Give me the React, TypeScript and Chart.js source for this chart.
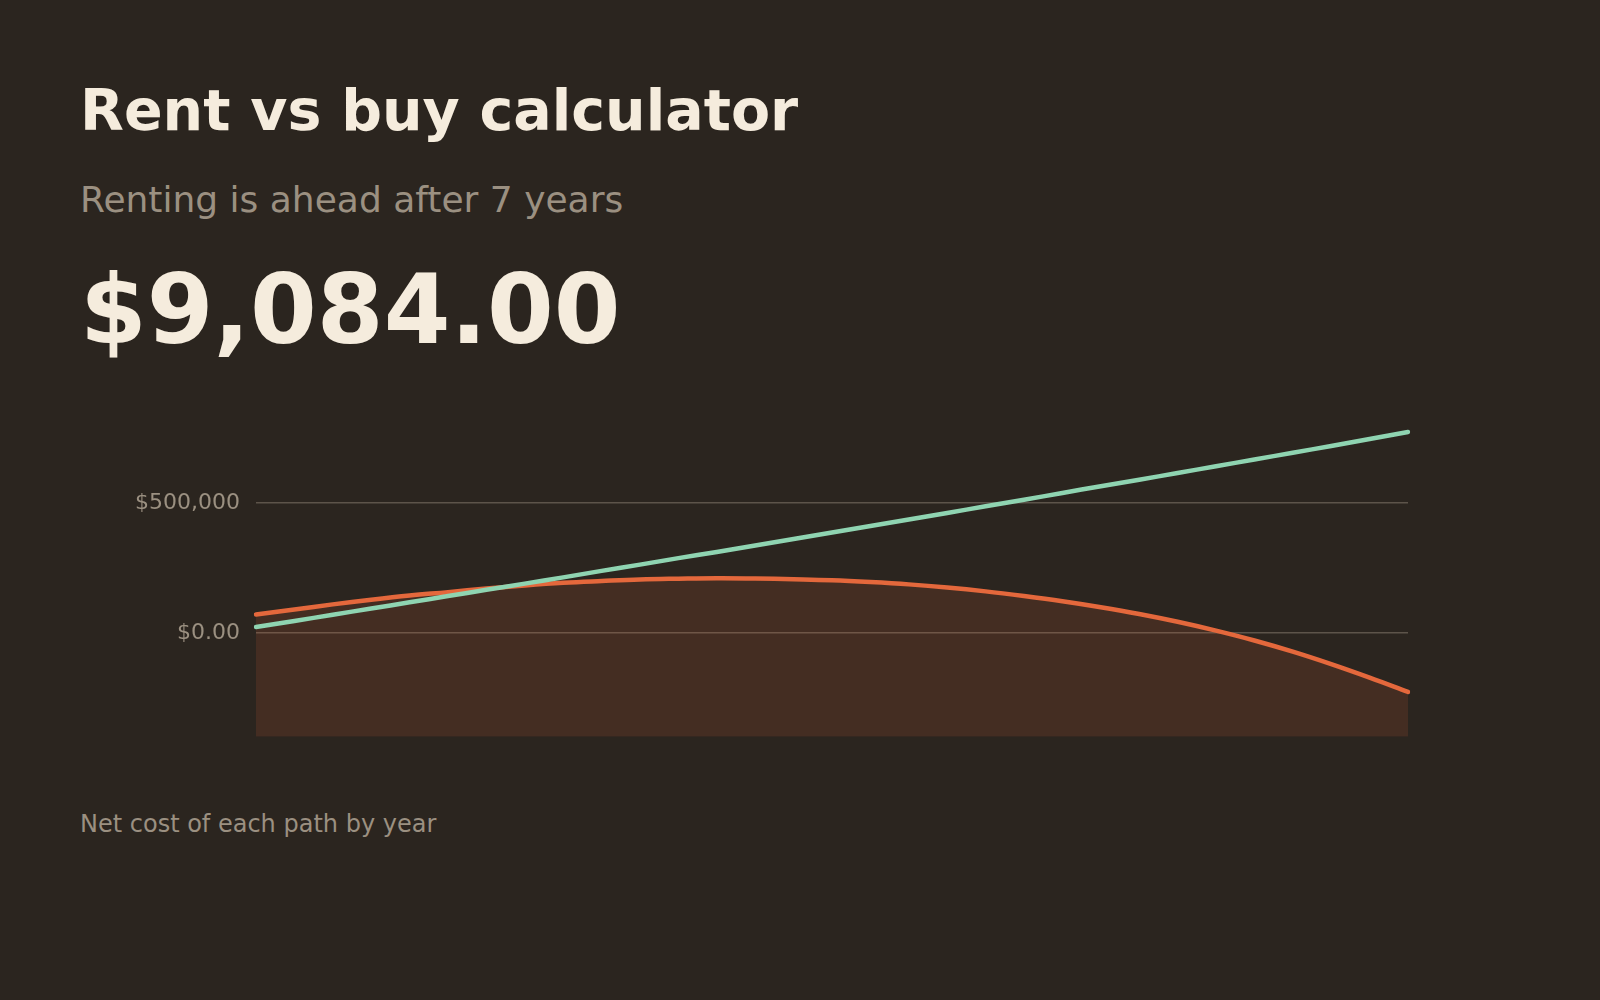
import React, { useEffect, useRef } from "react";
import { Chart, registerables } from "chart.js";

Chart.register(...registerables);

const years: number[] = [
  0, 1, 2, 3, 4, 5, 6, 7, 8, 9, 10, 11, 12, 13, 14, 15, 16, 17, 18, 19, 20,
  21, 22, 23, 24, 25, 26, 27, 28, 29, 30,
];

// Net cost of buying, by year
const buyNetCost: number[] = [
  71000, 90000, 110000, 128000, 144000, 157000, 171000, 183000, 193000,
  200000, 206000, 209000, 211000, 210000, 207000, 203000, 196000, 187000,
  175000, 160000, 142000, 122000, 99000, 73000, 43000, 9000, -29000, -72000,
  -120000, -172000, -227000,
];

// Net cost of renting, by year
const rentNetCost: number[] = [
  23000, 46000, 70000, 94000, 118000, 142000, 166000, 190000, 214000, 239000,
  263000, 288000, 312000, 337000, 362000, 387000, 412000, 437000, 462000,
  488000, 513000, 539000, 565000, 590000, 616000, 642000, 668000, 694000,
  720000, 747000, 774000,
];

const yTickValues: number[] = [0, 500000];
const yTickLabels: string[] = ["$0.00", "$500,000"];

const yMin = -400000;
const yMax = 800000;

const BG = "#2b251f";
const CREAM = "#f5ecdd";
const MUTED = "#9b9081";
const ORANGE = "#e4683c";
const GREEN = "#8fd4b1";
const GRID = "#5d544a";
const FONT = "'DejaVu Sans', Verdana, sans-serif";

export default function App() {
  const canvasRef = useRef<HTMLCanvasElement | null>(null);

  useEffect(() => {
    const canvas = canvasRef.current;
    if (!canvas) return;
    Chart.defaults.font.family = FONT;
    const chart = new Chart(canvas, {
      type: "line",
      data: {
        labels: years.map((y) => String(y)),
        datasets: [
          {
            label: "Buy",
            data: buyNetCost,
            borderColor: ORANGE,
            borderWidth: 4.5,
            borderCapStyle: "round",
            backgroundColor: "rgba(228,102,58,0.14)",
            fill: "start",
            pointRadius: 0,
            tension: 0.4,
            order: 1,
          },
          {
            label: "Rent",
            data: rentNetCost,
            borderColor: GREEN,
            borderWidth: 4.5,
            borderCapStyle: "round",
            fill: false,
            pointRadius: 0,
            tension: 0.4,
            order: 0,
          },
        ],
      },
      options: {
        responsive: false,
        animation: false,
        devicePixelRatio: 1,
        layout: { padding: { left: 0, right: 192, top: 24, bottom: 24 } },
        plugins: {
          legend: { display: false },
          tooltip: { enabled: false },
          title: { display: false },
        },
        scales: {
          x: { display: false },
          y: {
            min: yMin,
            max: yMax,
            afterBuildTicks: (scale: any) => {
              scale.ticks = yTickValues.map((v) => ({ value: v }));
            },
            afterFit: (scale: any) => {
              scale.width = 256;
            },
            border: { display: false },
            grid: {
              color: GRID,
              lineWidth: 1.5,
              drawTicks: false,
            },
            ticks: {
              padding: 16,
              color: MUTED,
              font: { size: 22, family: FONT },
              callback: (value: any) => {
                const i = yTickValues.indexOf(Number(value));
                return i >= 0 ? yTickLabels[i] : "";
              },
            },
          },
        },
      },
    });
    return () => chart.destroy();
  }, []);

  const textBase: React.CSSProperties = {
    position: "absolute",
    left: 80,
    margin: 0,
    lineHeight: 1,
    fontFamily: FONT,
    whiteSpace: "nowrap",
  };

  return (
    <div
      style={{
        position: "fixed",
        left: 0,
        top: 0,
        width: 1600,
        height: 1000,
        background: BG,
        overflow: "hidden",
      }}
    >
      <div style={{ ...textBase, top: 82, fontSize: 57, fontWeight: 700, color: CREAM }}>
        Rent vs buy calculator
      </div>
      <div style={{ ...textBase, top: 182, fontSize: 36, color: MUTED }}>
        Renting is ahead after 7 years
      </div>
      <div style={{ ...textBase, top: 262, fontSize: 96, fontWeight: 700, color: CREAM }}>
        $9,084.00
      </div>
      <canvas
        ref={canvasRef}
        width={1600}
        height={370}
        style={{ position: "absolute", left: 0, top: 396, width: 1600, height: 370 }}
      />
      <div style={{ ...textBase, top: 812, fontSize: 24, color: MUTED }}>
        Net cost of each path by year
      </div>
    </div>
  );
}
